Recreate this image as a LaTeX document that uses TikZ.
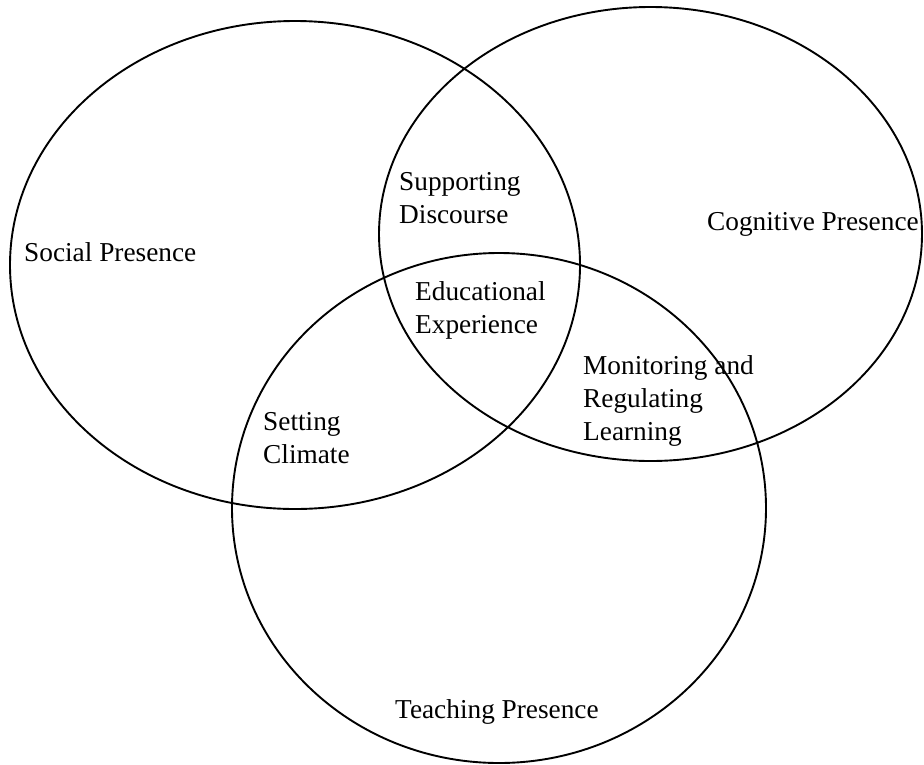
\documentclass[tikz,border=0pt]{standalone}
\usepackage{fontspec}
\setmainfont{Liberation Serif}

\begin{document}
\begin{tikzpicture}[x=1pt, y=-1pt,
                    every node/.style={inner sep=0pt, align=left, anchor=base west,
                                       font=\fontsize{27.3}{33}\selectfont},
                    presence/.style={draw=black, line width=1.9pt}]
\useasboundingbox (0,0) rectangle (924,764);
% the three presences
\draw[presence] (295,265) ellipse [x radius=285pt, y radius=244pt];
\draw[presence] (650.5,234) ellipse [x radius=271.5pt, y radius=227pt];
\draw[presence] (499,508) ellipse [x radius=267pt, y radius=255pt];
\node (social) at (24,261) {Social Presence};
\node (cognitive) at (707,230) {Cognitive Presence};
\node (teaching) at (395,718) {Teaching Presence};
% overlaps (base is the last line)
\node (discourse) at (399,223) {Supporting\\Discourse};
\node (experience) at (415,333) {Educational\\Experience};
\node (regulating) at (583,440) {Monitoring and\\Regulating\\Learning};
\node (climate) at (263,463) {Setting\\Climate};
\end{tikzpicture}
\end{document}
